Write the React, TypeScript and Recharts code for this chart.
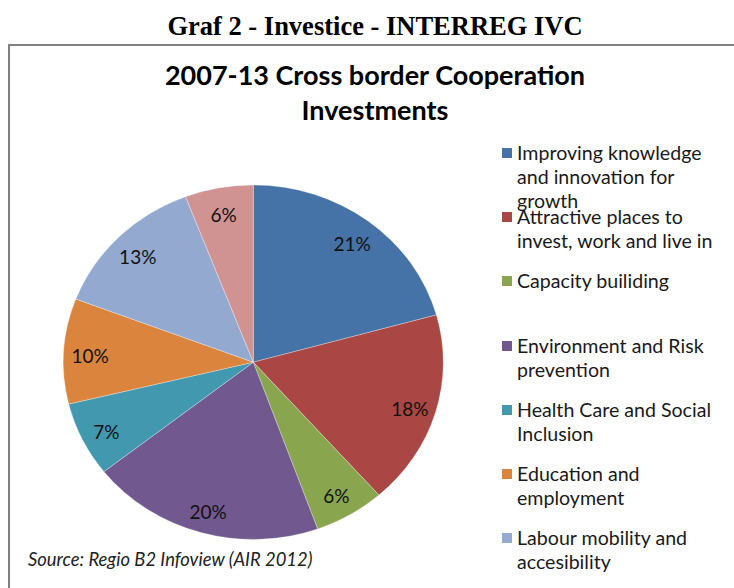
import { Legend, Pie, PieChart } from "recharts";

const categories = [
  "Improving knowledge\nand innovation for\ngrowth",
  "Attractive places to\ninvest, work and live in",
  "Capacity builiding",
  "Environment and Risk\nprevention",
  "Health Care and Social\nInclusion",
  "Education and\nemployment",
  "Labour mobility and\naccesibility",
];
const shares = [20.7, 17.8, 6.0, 19.9, 6.8, 9.6, 13.4, 5.8];
const colors = [
  "#4572A7",
  "#AA4643",
  "#89A54E",
  "#71588F",
  "#4198AF",
  "#DB843D",
  "#93A9CF",
  "#D19392",
];

const data = shares.map((value, i) => ({
  name: categories[i] ?? "",
  value,
  fill: colors[i],
}));

const RAD = Math.PI / 180;
const RX = 190;
const RY_RATIO = 177.2 / 190;
const LABEL_POS = 0.86;
const SANS = "Lato, 'Open Sans', sans-serif";

// Excel drew the pie slightly stretched, so sectors are elliptical
function EllipseSector(props: any) {
  const { cx, cy, outerRadius, startAngle, endAngle, fill } = props;
  const rx = outerRadius;
  const ry = outerRadius * RY_RATIO;
  const pt = (a: number) => [cx + rx * Math.cos(-a * RAD), cy + ry * Math.sin(-a * RAD)];
  const [x1, y1] = pt(startAngle);
  const [x2, y2] = pt(endAngle);
  const large = Math.abs(startAngle - endAngle) > 180 ? 1 : 0;
  const d = `M${cx},${cy} L${x1},${y1} A${rx},${ry} 0 ${large} 1 ${x2},${y2} Z`;
  return <path d={d} fill={fill} stroke="#ffffff" strokeOpacity={0.5} strokeWidth={0.6} />;
}

function renderLabel(props: any) {
  const { cx, cy, midAngle, outerRadius, percent } = props;
  const x = cx + outerRadius * LABEL_POS * Math.cos(-midAngle * RAD);
  const y = cy + outerRadius * RY_RATIO * LABEL_POS * Math.sin(-midAngle * RAD);
  return (
    <text
      x={x}
      y={y + 10}
      textAnchor="middle"
      fontFamily={SANS}
      fontSize={19}
      fill="#111"
    >
      {`${Math.round(percent * 100)}%`}
    </text>
  );
}

function LegendList({ payload }: any) {
  const items = (payload ?? [])
    .filter((p: any) => categories.includes(p.value))
    .sort((a: any, b: any) => categories.indexOf(a.value) - categories.indexOf(b.value));
  return (
    <div style={{ position: "relative", width: 230, height: 450 }}>
      {items.map((p: any, i: number) => (
        <div
          key={i}
          style={{ position: "absolute", left: 0, top: i * 64.2, width: 230 }}
        >
          <div
            style={{
              position: "absolute",
              left: 2,
              top: 7,
              width: 10,
              height: 10,
              background: p.color,
            }}
          />
          <div
            style={{
              position: "absolute",
              left: 17,
              top: 0,
              whiteSpace: "pre",
              fontFamily: SANS,
              fontSize: 19.6,
              lineHeight: "24px",
              color: "#1a1a1a",
            }}
          >
            {p.value}
          </div>
        </div>
      ))}
    </div>
  );
}

export default function App() {
  return (
    <div
      style={{
        position: "absolute",
        left: 0,
        top: 0,
        width: 734,
        height: 588,
        overflow: "hidden",
        background: "#fff",
      }}
    >
      <div
        style={{
          position: "absolute",
          left: 8,
          top: 44,
          width: 800,
          height: 600,
          borderLeft: "2px solid #808080",
          borderTop: "2px solid #808080",
        }}
      />
      <svg
        width={734}
        height={588}
        style={{ position: "absolute", left: 0, top: 0 }}
      >
        <text
          x={375}
          y={35}
          textAnchor="middle"
          fontFamily="'Liberation Serif', serif"
          fontWeight="bold"
          fontSize={26.5}
          fill="#000"
        >
          Graf 2 - Investice - INTERREG IVC
        </text>
        <text
          x={375}
          y={85}
          textAnchor="middle"
          fontFamily={SANS}
          fontWeight="bold"
          fontSize={27}
          fill="#000"
        >
          2007-13 Cross border Cooperation
        </text>
        <text
          x={375}
          y={120}
          textAnchor="middle"
          fontFamily={SANS}
          fontWeight="bold"
          fontSize={27}
          fill="#000"
        >
          Investments
        </text>
        <text
          x={28}
          y={566}
          fontFamily={SANS}
          fontStyle="italic"
          fontSize={18.4}
          fill="#222"
        >
          Source: Regio B2 Infoview (AIR 2012)
        </text>
      </svg>
      <div style={{ position: "absolute", left: 0, top: 0 }}>
        <PieChart
          width={734}
          height={588}
          margin={{ top: 0, right: 0, bottom: 0, left: 0 }}
        >
          <Pie
            data={data}
            dataKey="value"
            nameKey="name"
            cx={253.3}
            cy={362.2}
            outerRadius={RX}
            startAngle={90}
            endAngle={-270}
            shape={EllipseSector}
            label={renderLabel}
            labelLine={false}
            isAnimationActive={false}
          />
          <Legend
            layout="vertical"
            content={<LegendList />}
            wrapperStyle={{ position: "absolute", left: 500, top: 141, width: 230 }}
          />
        </PieChart>
      </div>
    </div>
  );
}
